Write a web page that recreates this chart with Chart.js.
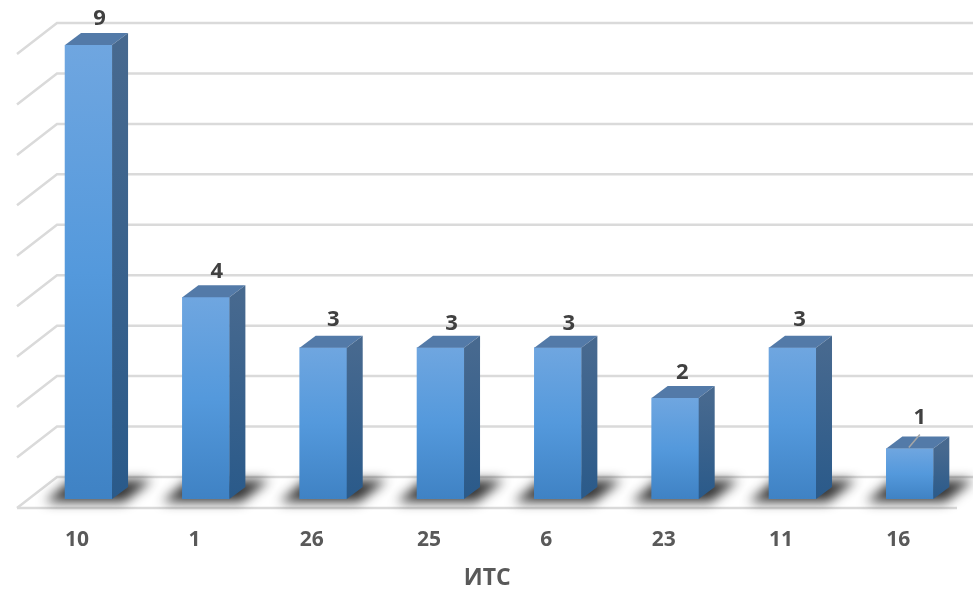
<!DOCTYPE html>
<html>
<head>
<meta charset="utf-8">
<script src="https://cdn.jsdelivr.net/npm/chart.js@4/dist/chart.umd.min.js"></script>
<style>
  html, body { margin: 0; padding: 0; background: #fff; }
  canvas { display: block; }
</style>
</head>
<body>
<canvas id="chart" width="973" height="591"></canvas>
<script>
const categories = ['10', '1', '26', '25', '6', '23', '11', '16'];
const counts = [9, 4, 3, 3, 3, 2, 3, 1];
const axisTitle = 'ИТС';

// pseudo-3D look
const DEPTH_X = 16;
const DEPTH_Y = 12;
const WALL_X = 40;
const WALL_Y = 31;
const FLOOR_DROP = 9;
const FLOOR_LEFT = 17;
const FLOOR_RIGHT = 957;

const LABEL_FONT = 'bold 22px "Open Sans", sans-serif';
const TITLE_FONT = 'bold 23px "Open Sans", sans-serif';

// label tweaks per bar, relative to the top face
const labelNudgeX = [0, 0, -1, 0, 0, -4, -4, -1];
const labelNudgeY = [1, 2, -1, 3, 3, 2, -1, -4];

function pathOf(ctx, pts) {
  ctx.beginPath();
  pts.forEach((p, i) => (i ? ctx.lineTo(p[0], p[1]) : ctx.moveTo(p[0], p[1])));
  ctx.closePath();
}

const scenePlugin = {
  id: 'scene',
  beforeDatasetsDraw(chart) {
    const { ctx, scales: { y } } = chart;
    const y0 = y.getPixelForValue(0);
    ctx.save();

    // back wall grid lines + left wall
    ctx.strokeStyle = '#dadada';
    ctx.lineWidth = 2.5;
    y.ticks.forEach(t => {
      const py = y.getPixelForValue(t.value);
      ctx.beginPath();
      ctx.moveTo(FLOOR_LEFT, py + FLOOR_DROP);
      ctx.lineTo(FLOOR_LEFT + WALL_X, py + FLOOR_DROP - WALL_Y);
      ctx.lineTo(chart.width, py + FLOOR_DROP - WALL_Y);
      ctx.stroke();
    });
    ctx.beginPath();
    ctx.moveTo(FLOOR_LEFT, y0 + FLOOR_DROP);
    ctx.lineTo(FLOOR_RIGHT, y0 + FLOOR_DROP);
    ctx.stroke();

    // soft floor shadows behind each bar
    const meta = chart.getDatasetMeta(0);
    ctx.filter = 'blur(6px)';
    ctx.fillStyle = 'rgba(15,15,15,0.85)';
    meta.data.forEach(bar => {
      const l = bar.x - bar.width / 2;
      const r = bar.x + bar.width / 2;
      pathOf(ctx, [
        [l - 20, y0 + 3],
        [r + 12, y0 + 3],
        [r + 40, y0 - 19],
        [l + 6, y0 - 19]
      ]);
      ctx.fill();
    });
    ctx.filter = 'none';
    ctx.restore();
  },
  afterDatasetsDraw(chart) {
    const { ctx, scales: { x, y } } = chart;
    const y0 = y.getPixelForValue(0);
    const meta = chart.getDatasetMeta(0);
    ctx.save();
    meta.data.forEach((bar, i) => {
      const l = bar.x - bar.width / 2;
      const r = bar.x + bar.width / 2;
      const top = bar.y;

      // top face
      ctx.fillStyle = '#537aa8';
      pathOf(ctx, [[l, top], [r, top], [r + DEPTH_X, top - DEPTH_Y], [l + DEPTH_X, top - DEPTH_Y]]);
      ctx.fill();

      // right face
      const side = ctx.createLinearGradient(0, top, 0, y0);
      side.addColorStop(0, '#47698f');
      side.addColorStop(1, '#2a5a8a');
      ctx.fillStyle = side;
      pathOf(ctx, [[r, top], [r + DEPTH_X, top - DEPTH_Y], [r + DEPTH_X, y0 - DEPTH_Y], [r, y0]]);
      ctx.fill();

      // value label
      ctx.fillStyle = '#404040';
      ctx.font = LABEL_FONT;
      ctx.textAlign = 'center';
      ctx.textBaseline = 'middle';
      ctx.fillText(String(counts[i]), bar.x + 11 + labelNudgeX[i], top - 27 + labelNudgeY[i]);
    });

    // leader line for the shortest bar, its label sits clear of the top face
    const last = meta.data[meta.data.length - 1];
    ctx.strokeStyle = '#a6a6a6';
    ctx.lineWidth = 1.5;
    ctx.beginPath();
    ctx.moveTo(last.x - 1, last.y - 1);
    ctx.lineTo(last.x + 10, last.y - 14);
    ctx.stroke();

    // axis title follows the tick labels, which sit left of the bars
    ctx.fillStyle = '#595959';
    ctx.font = TITLE_FONT;
    ctx.textAlign = 'center';
    ctx.textBaseline = 'middle';
    ctx.fillText(axisTitle, (x.left + x.right) / 2 - 12, 578);
    ctx.restore();
  }
};

new Chart(document.getElementById('chart'), {
  type: 'bar',
  data: {
    labels: categories,
    datasets: [{
      data: counts,
      barThickness: 47,
      backgroundColor(c) {
        const { chartArea, scales } = c.chart;
        if (!chartArea || c.raw == null) return '#5a9ade';
        // every bar gets the full fade from its own top to the floor
        const g = c.chart.ctx.createLinearGradient(0, scales.y.getPixelForValue(c.raw), 0, scales.y.getPixelForValue(0));
        g.addColorStop(0, '#6fa6e0');
        g.addColorStop(0.5, '#5499dc');
        g.addColorStop(1, '#3f82c4');
        return g;
      }
    }]
  },
  options: {
    responsive: false,
    animation: false,
    layout: { padding: { left: 29.9, right: 4.5, top: 45, bottom: 0 } },
    plugins: { legend: { display: false }, tooltip: { enabled: false } },
    scales: {
      x: {
        grid: { display: false },
        border: { display: false },
        afterFit(scale) { scale.height = 92; },
        ticks: {
          color: '#595959',
          font: { family: '"Open Sans", sans-serif', size: 21, weight: 'bold' },
          labelOffset: -11.5,
          padding: 20,
          maxRotation: 0
        }
      },
      y: {
        display: false,
        min: 0,
        max: 9,
        ticks: { stepSize: 1 }
      }
    }
  },
  plugins: [scenePlugin]
});
</script>
</body>
</html>
